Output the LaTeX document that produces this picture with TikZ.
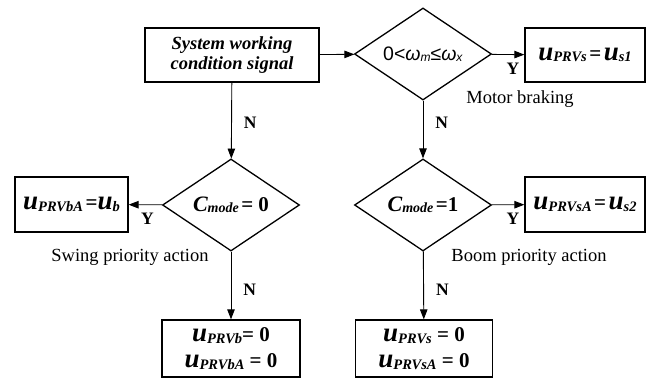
\documentclass[tikz,border=0pt]{standalone}
\usepackage{fontspec}
\setmainfont{Liberation Serif}
\newfontfamily\arialfont{Liberation Sans}
\usetikzlibrary{arrows.meta, positioning, shapes.geometric}

\newcommand{\uvar}[1]{{\fontsize{27}{27}\selectfont\bfseries\itshape u}\raisebox{-1.5pt}{\fontsize{14.5}{14.5}\selectfont\bfseries\itshape #1}}
\newcommand{\eqs}[1]{{\fontsize{21}{21}\selectfont\bfseries #1}}
\newcommand{\cmode}{{\fontsize{22}{22}\selectfont\bfseries\itshape C}\raisebox{-1.5pt}{\fontsize{14}{14}\selectfont\bfseries\itshape mode}}

\begin{document}
\begin{tikzpicture}[x=1pt, y=-1pt,
  >={Triangle[length=10pt,width=7.5pt]},
  block/.style={draw, line width=1.3pt, inner sep=0pt, align=center},
  decision/.style={draw, diamond, aspect=1.5, line width=1.3pt, inner sep=0pt,
    minimum width=137pt, minimum height=92pt},
  yn/.style={font=\fontsize{17.5}{17.5}\selectfont\bfseries, inner sep=0pt},
  note/.style={font=\fontsize{18.5}{18.5}\selectfont, inner sep=0pt}]
\useasboundingbox (0,0) rectangle (649,379);

\node (signal) [block, minimum width=174pt, minimum height=54pt,
  font=\fontsize{18.5}{20}\selectfont\bfseries\itshape] at (232,55)
  {System working\\condition signal};
\node (braking) [decision] at (423,54)
  {\arialfont\fontsize{19.5}{19.5}\selectfont 0<\textit{ω}\raisebox{-1.5pt}{\fontsize{12}{12}\selectfont\textit{m}}≤\textit{ω}\raisebox{-1.5pt}{\fontsize{12}{12}\selectfont\textit{x}}};
\node (us1) [block, minimum width=120pt, minimum height=54pt] at (585,55)
  {\uvar{PRVs} \eqs{=} \uvar{s1}};

\node (swing) [decision] at (231,205) {\cmode\ \eqs{= 0}};
\node (boom) [decision] at (423,205) {\cmode\ \eqs{=1}};
\node (ub) [block, minimum width=113pt, minimum height=55pt] at (71.5,204.5)
  {\uvar{PRVbA} \eqs{=}\uvar{b}};
\node (us2) [block, minimum width=120pt, minimum height=55pt] at (585,204.5)
  {\uvar{PRVsA} \eqs{=} \uvar{s2}};

\node (zerob) [block, minimum width=138pt, minimum height=57pt,
  font=\fontsize{21}{26}\selectfont] at (231,348.5)
  {\uvar{PRVb}\eqs{= 0}\\ \uvar{PRVbA} \eqs{= 0}};
\node (zeros) [block, minimum width=137pt, minimum height=57pt,
  font=\fontsize{21}{26}\selectfont] at (424,348.5)
  {\uvar{PRVs} \eqs{= 0}\\ \uvar{PRVsA} \eqs{= 0}};

\path[->, line width=0.9pt] (signal) edge (braking);
\path[->, line width=0.9pt] (braking) edge node[yn, pos=0.65, below=8pt] {Y} (us1);
\path[->, line width=0.9pt] (signal) edge node[yn, pos=0.53, right=12pt] {N} (swing);
\path[->, line width=0.9pt] (braking) edge node[yn, pos=0.39, right=12pt] {N} (boom);
\path[->, line width=0.9pt] (swing) edge node[yn, pos=0.44, below=8pt] {Y} (ub);
\path[->, line width=0.9pt] (boom) edge node[yn, pos=0.65, below=8pt] {Y} (us2);
\path[->, line width=0.9pt] (swing) edge node[yn, pos=0.57, right=12pt] {N} (zerob);
\path[->, line width=0.9pt] (boom) edge node[yn, pos=0.57, right=12pt] {N} (zeros);

\node (motor) [note] at (520,99) {Motor braking};
\node (swingact) [note] at (130,257) {Swing priority action};
\node (boomact) [note] at (529,257) {Boom priority action};
\end{tikzpicture}
\end{document}
